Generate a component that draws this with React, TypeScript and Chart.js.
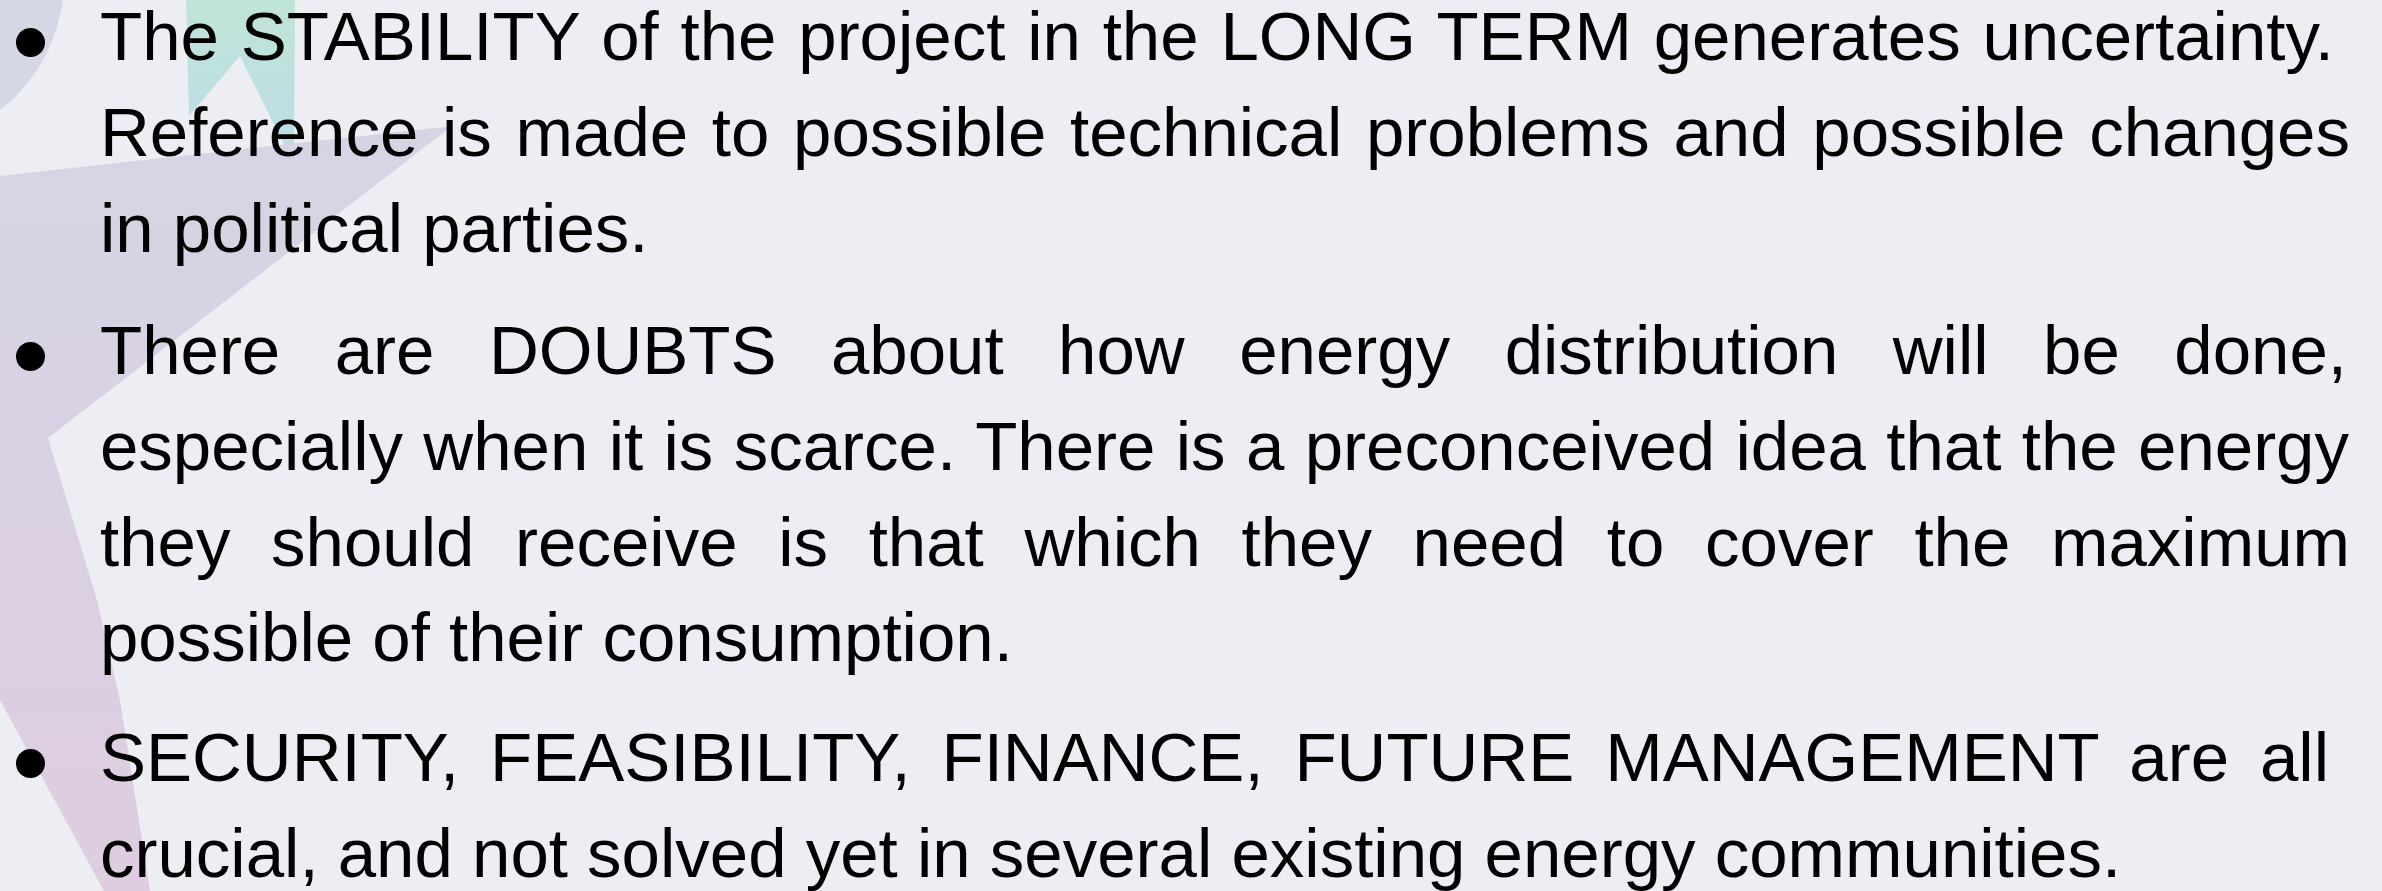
import React, { useEffect, useLayoutEffect, useRef } from "react";
import { Chart, registerables } from "chart.js";

Chart.register(...registerables);

const W = 2382;
const H = 891;

// ---- text content (one array per bullet, broken as in the reference) ----
const paragraph1 = [
  "The STABILITY of the project in the LONG TERM generates uncertainty.",
  "Reference is made to possible technical problems and possible changes",
  "in political parties.",
];
const paragraph2 = [
  "There are DOUBTS about how energy distribution will be done,",
  "especially when it is scarce. There is a preconceived idea that the energy",
  "they should receive is that which they need to cover the maximum",
  "possible of their consumption.",
];
const paragraph3 = [
  "SECURITY, FEASIBILITY, FINANCE, FUTURE MANAGEMENT are all",
  "crucial, and not solved yet in several existing energy communities.",
];
const paragraphs = [paragraph1, paragraph2, paragraph3];

// justified line right edges (null = last, left aligned line)
const lineEnds1 = [2334, 2350, null];
const lineEnds2 = [2347, 2349, 2350, null];
const lineEnds3 = [2329, null];
const lineEnds = [lineEnds1, lineEnds2, lineEnds3];

// first baseline of each paragraph
const firstBaselines = [61, 375, 782];

// ---- decorative background shapes (slide artwork, in slide units) ----
const circleCenter = { x: -100, y: -20 };
const circleRadius = 164;
const tealShape = [
  { x: 186, y: 0 },
  { x: 295, y: 0 },
  { x: 294, y: 165 },
  { x: 240, y: 56 },
  { x: 189, y: 116 },
];
const lavenderShape = [
  { x: 0, y: 176 },
  { x: 452, y: 126 },
  { x: 48, y: 438 },
  { x: 97, y: 600 },
  { x: 120, y: 700 },
  { x: 150, y: 891 },
  { x: 104, y: 891 },
  { x: 0, y: 700 },
];

const BG = "#EDEEF4";
const FONT = '"Liberation Sans", Arial, sans-serif';
const FONT_SIZE = 69;
const LINE_STEP = 95.7;
const LINE_BOX = 80;
const BASE_IN_BOX = 63.9;
const TEXT_LEFT = 100;

const shapesPlugin = {
  id: "slideShapes",
  beforeDraw(chart: any) {
    const { ctx } = chart;
    const xs = chart.scales.x;
    const ys = chart.scales.y;
    ctx.save();
    ctx.fillStyle = BG;
    ctx.fillRect(0, 0, chart.width, chart.height);

    // circle
    const cx = xs.getPixelForValue(circleCenter.x);
    const cy = ys.getPixelForValue(circleCenter.y);
    const r = xs.getPixelForValue(circleCenter.x + circleRadius) - cx;
    ctx.beginPath();
    ctx.arc(cx, cy, r, 0, Math.PI * 2);
    ctx.fillStyle = "#D5D7E5";
    ctx.fill();

    const poly = (pts: { x: number; y: number }[], fill: any) => {
      ctx.beginPath();
      pts.forEach((p, i) => {
        const px = xs.getPixelForValue(p.x);
        const py = ys.getPixelForValue(p.y);
        if (i === 0) ctx.moveTo(px, py);
        else ctx.lineTo(px, py);
      });
      ctx.closePath();
      ctx.fillStyle = fill;
      ctx.fill();
    };

    const tg = ctx.createLinearGradient(0, ys.getPixelForValue(0), 0, ys.getPixelForValue(165));
    tg.addColorStop(0, "#C0E4D7");
    tg.addColorStop(1, "#BCDCE9");
    poly(tealShape, tg);

    const lg = ctx.createLinearGradient(0, ys.getPixelForValue(130), 0, ys.getPixelForValue(891));
    lg.addColorStop(0, "#D6D4E4");
    lg.addColorStop(0.45, "#D9D1E3");
    lg.addColorStop(1, "#DFCCE1");
    poly(lavenderShape, lg);
    ctx.restore();
  },
};

export default function App() {
  const canvasRef = useRef<HTMLCanvasElement | null>(null);
  const lineRefs = useRef<(HTMLDivElement | null)[]>([]);

  useEffect(() => {
    document.body.style.margin = "0";
    const canvas = canvasRef.current;
    if (!canvas) return;
    const chart = new Chart(canvas, {
      type: "scatter",
      data: {
        datasets: [
          { label: "teal", data: tealShape, pointRadius: 0, showLine: false },
          { label: "lavender", data: lavenderShape, pointRadius: 0, showLine: false },
        ],
      },
      options: {
        animation: false,
        responsive: false,
        devicePixelRatio: 1,
        events: [],
        layout: { padding: 0 },
        plugins: { legend: { display: false }, tooltip: { enabled: false } },
        scales: {
          x: { type: "linear", min: 0, max: W, display: false },
          y: { type: "linear", min: 0, max: H, reverse: true, display: false },
        },
      },
      plugins: [shapesPlugin],
    });
    return () => chart.destroy();
  }, []);

  useLayoutEffect(() => {
    let k = 0;
    paragraphs.forEach((lines, pi) => {
      lines.forEach((line, li) => {
        const el = lineRefs.current[k++];
        const end = lineEnds[pi][li];
        if (!el || end == null) return;
        el.style.wordSpacing = "0px";
        const natural = el.getBoundingClientRect().width;
        const spaces = (line.match(/ /g) || []).length;
        if (spaces > 0) {
          const ws = (end - TEXT_LEFT - natural) / spaces;
          el.style.wordSpacing = ws + "px";
        }
      });
    });
  }, []);

  const items: React.ReactNode[] = [];
  let k = 0;
  paragraphs.forEach((lines, pi) => {
    const b0 = firstBaselines[pi];
    items.push(
      <div
        key={"b" + pi}
        style={{
          position: "absolute",
          left: 16,
          top: b0 - 19 - 14.5,
          width: 29,
          height: 29,
          borderRadius: "50%",
          background: "#000",
        }}
      />
    );
    lines.forEach((line, li) => {
      const idx = k++;
      const baseline = b0 + li * LINE_STEP;
      items.push(
        <div
          key={"l" + idx}
          ref={(el) => {
            lineRefs.current[idx] = el;
          }}
          style={{
            position: "absolute",
            left: TEXT_LEFT,
            top: baseline - BASE_IN_BOX,
            height: LINE_BOX,
            lineHeight: LINE_BOX + "px",
            fontFamily: FONT,
            fontSize: FONT_SIZE,
            color: "#000",
            whiteSpace: "pre",
          }}
        >
          {line}
        </div>
      );
    });
  });

  return (
    <div style={{ position: "relative", width: W, height: H, overflow: "hidden", background: BG }}>
      <canvas ref={canvasRef} width={W} height={H} style={{ position: "absolute", left: 0, top: 0, width: W, height: H }} />
      {items}
    </div>
  );
}
